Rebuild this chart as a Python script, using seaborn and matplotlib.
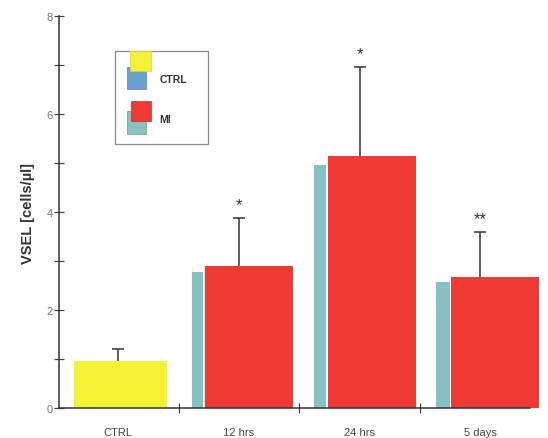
import numpy as np
import pandas as pd
import matplotlib.pyplot as plt
import seaborn as sns
from matplotlib.patches import Rectangle

# dados
grupos = ['CTRL', '12 hrs', '24 hrs', '5 days']
vsel = [0.95, 2.90, 5.14, 2.68]          # barra da frente
vsel_lado = [0.92, 2.78, 4.96, 2.57]     # lateral (efeito 3D)
erro = [0.25, 0.97, 1.82, 0.91]
sig = ['', '*', '*', '**']

cor_frente = ['#f4f232', '#ee3a32', '#ee3a32', '#ee3a32']
cor_lado = ['#6a9fd4', '#86c2c4', '#86c2c4', '#86c2c4']

sns.set_style('ticks')
plt.rcParams['font.family'] = ['Liberation Sans', 'DejaVu Sans']

fig = plt.figure(figsize=(5.48, 4.39), dpi=100)
ax = fig.add_axes([0.1077, 0.0683, 0.967 - 0.1077, 0.961 - 0.0683])

df = pd.DataFrame({'grupo': grupos, 'vsel': vsel})
pos = np.arange(len(grupos))
desloc = [0.03, 0.08, 0.1, 0.12]
larg = 0.73

# barras laterais (atras)
larg_lado = [0.015, 0.09, 0.1, 0.11]
for i in range(len(grupos)):
    esq = pos[i] + desloc[i] - larg / 2 - larg_lado[i] - 0.01
    ax.bar(esq, vsel_lado[i], width=larg_lado[i], align='edge',
           color=cor_lado[i], linewidth=0, zorder=1, clip_on=False)

sns.barplot(data=df, x='grupo', y='vsel', hue='grupo', palette=cor_frente,
            order=grupos, width=larg, legend=False, saturation=1,
            linewidth=0, ax=ax, zorder=2)
for i, p in enumerate(ax.patches[len(grupos):]):
    p.set_x(p.get_x() + desloc[i])
    p.set_clip_on(False)
# CTRL um pouco mais larga
p0 = ax.patches[len(grupos)]
p0.set_x(p0.get_x() - 0.03)
p0.set_width(p0.get_width() + 0.04)

# barras de erro (so para cima)
eb = ax.errorbar(pos, vsel, yerr=[np.zeros(len(erro)), erro], fmt='none',
                 ecolor='#333333', elinewidth=1.1, capsize=4, capthick=1.1, zorder=1.5)
eb[1][0].set_visible(False)  # sem cap inferior
for i in range(len(grupos)):
    if sig[i]:
        ax.text(pos[i], vsel[i] + erro[i] + 0.12, sig[i], ha='center', va='bottom',
                fontsize=12, color='#333333')

ax.set_xlim(-0.49, 3.41)
ax.set_ylim(0, 8)
ax.set_yticks([0, 2, 4, 6, 8])
ax.set_yticks([1, 3, 5, 7], minor=True)
ax.set_xticks([0.5, 1.5, 2.5], minor=True)
ax.set_xticks(pos)
ax.set_xticklabels(grupos)
ax.tick_params(axis='y', which='both', direction='inout', length=7, width=0.9,
               labelsize=8, labelcolor='#777777', color='#444444', pad=1)
ax.tick_params(axis='x', which='major', length=0, labelsize=8,
               labelcolor='#444444', pad=14)
ax.tick_params(axis='x', which='minor', direction='inout', length=7, width=0.9,
               color='#444444')
ax.set_xlabel('')
ax.set_ylabel('VSEL [cells/µl]', fontsize=10.5, fontweight='bold', color='#333333',
              labelpad=8)
sns.despine(ax=ax)
for s in ['left', 'bottom']:
    ax.spines[s].set_color('#333333')
    ax.spines[s].set_linewidth(1.1)

# legenda desenhada
ax.add_patch(Rectangle((-0.03, 5.39), 0.77, 1.9, facecolor='white',
                       edgecolor='#8a8a8a', linewidth=0.9, zorder=4))
ax.add_patch(Rectangle((0.07, 6.51), 0.16, 0.45, facecolor='#6a9fd4',
                       edgecolor='#5a7fa0', linewidth=0.5, zorder=5))
ax.add_patch(Rectangle((0.095, 6.88), 0.18, 0.41, facecolor='#f4f232',
                       edgecolor='#d8d050', linewidth=0.5, zorder=6))
ax.add_patch(Rectangle((0.07, 5.59), 0.16, 0.47, facecolor='#86c2c4',
                       edgecolor='#6a9a9c', linewidth=0.5, zorder=5))
ax.add_patch(Rectangle((0.105, 5.85), 0.17, 0.41, facecolor='#ee3a32',
                       edgecolor='#c83030', linewidth=0.5, zorder=6))
ax.text(0.34, 6.72, 'CTRL', fontsize=7.5, fontweight='bold', color='#333333',
        va='center', zorder=7)
ax.text(0.34, 5.9, 'MI', fontsize=7.5, fontweight='bold', color='#333333',
        va='center', zorder=7)

plt.savefig('out.png', dpi=100)
